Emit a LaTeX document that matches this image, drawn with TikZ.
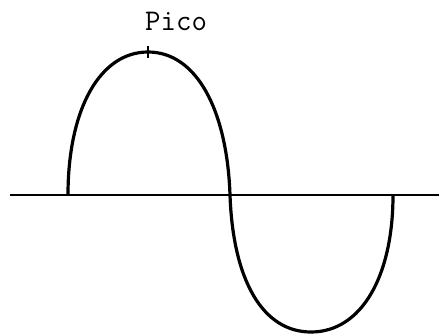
\documentclass[tikz,border=0pt]{standalone}
\usepackage{tikz}
\usetikzlibrary{positioning}

\begin{document}
\begin{tikzpicture}[
    x=1pt, y=-1pt,
    axisline/.style={line width=2.4pt},
    wave/.style={line width=3.2pt},
    lbl/.style={font=\ttfamily\fontsize{30}{32}\selectfont, inner sep=0pt}
]
\useasboundingbox (0,0) rectangle (439,334);
\coordinate (left) at (10,195);
\coordinate (right) at (439,195);
\coordinate (start) at (68,195);
\coordinate (peak) at (148,52);
\coordinate (cross) at (230,195);
\coordinate (trough) at (311,332);
\coordinate (stop) at (393,195);

\draw[axisline] (left) -- (right);
\draw[wave] (start) .. controls (68,109) and (100,52) .. (peak)
    .. controls (196,52) and (227,109) .. (cross)
    .. controls (233,281) and (263,332) .. (trough)
    .. controls (361,332) and (393,277) .. (stop);
\draw[line width=2.4pt] (peak) ++(0,-6) -- ++(0,12);
\node[lbl, anchor=base west] (pico) at (145,31) {Pico};
\end{tikzpicture}
\end{document}
